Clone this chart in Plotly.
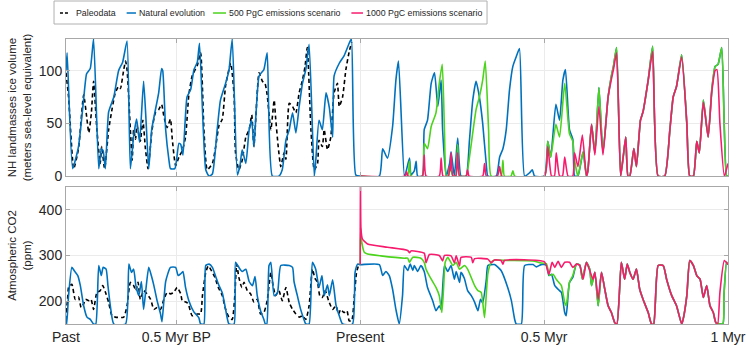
import plotly.graph_objects as go

# ---------------- data (time in kyr, negative = before present) ----------------
t_paleo_ice = [-800, -793, -779, -766, -752, -743, -738, -731, -725, -716, -707, -703, -695, -684, -675,
               -666, -657, -652, -643, -638, -634, -625, -620, -616, -611, -607, -598, -591, -584, -577,
               -566, -557, -548, -540, -534, -525, -516, -511, -502, -493, -484, -475, -466, -457, -443,
               -434, -425, -416, -402, -393, -384, -375, -366, -352, -343, -339, -330, -321, -311, -302,
               -295, -289, -275, -266, -259, -253, -243, -234, -230, -223, -216, -207, -202, -193, -184,
               -175, -166, -157, -150, -144, -134, -125, -116, -112, -103, -98, -89, -80, -71, -62,
               -57, -48, -39, -30, -23]
paleo_ice = [98, 75, 7, 26, 77, 54, 41, 60, 90, 44, 12, 28, 7, 44, 63,
             79, 85, 83, 101, 109, 101, 44, 15, 44, 35, 48, 33, 53, 26, 7,
             44, 60, 63, 68, 57, 46, 54, 35, 10, 18, 24, 37, 77, 95, 105,
             117, 44, 6, 12, 28, 48, 54, 86, 107, 77, 22, 6, 15, 37, 44,
             58, 28, 98, 90, 88, 77, 44, 72, 55, 28, 9, 22, 16, 69, 66,
             60, 79, 91, 104, 122, 44, 6, 12, 34, 28, 44, 25, 37, 79, 88,
             66, 75, 101, 118, 127]

t_nat_ice = [-800, -797, -782, -766, -752, -744, -734, -725, -711, -704, -699, -693, -684, -670, -657,
             -646, -634, -625, -616, -608, -600, -589, -582, -575, -567, -548, -540, -537, -529, -520,
             -516, -504, -493, -488, -482, -471, -461, -452, -443, -437, -420, -411, -402, -389, -380,
             -366, -357, -348, -334, -327, -321, -311, -302, -295, -289, -275, -262, -253, -239, -221,
             -212, -202, -193, -184, -175, -166, -157, -148, -139, -125, -121, -112, -103, -93, -84,
             -75, -71, -57, -44, -30, -24, -12, 0,
             52, 61, 74, 88, 97, 104, 120, 123, 134, 138, 147, 152, 156, 169, 174,
             183, 193, 202, 211, 220, 224, 234, 243, 247, 256, 265, 274, 288, 297, 306,
             315, 324, 333, 343, 347, 370, 379, 388, 397, 406, 415, 424, 433, 447, 460,
             468, 474, 501, 510, 518, 532, 542, 551, 558, 569, 578, 583, 592, 606, 615,
             619, 629, 638, 649, 660, 674, 683, 689, 697, 708, 715, 722, 728, 733, 744,
             751, 762, 769, 783, 795, 810, 828, 842, 851, 860, 874, 888, 896, 906, 915,
             922, 933, 946, 956, 965, 973, 983, 996, 1000]
nat_ice = [100, 117, 7, 28, 73, 97, 102, 130, 7, 26, 24, 7, 61, 75, 100,
           108, 128, 7, 38, 54, 32, 90, 50, 7, 44, 79, 102, 100, 44, 15,
           7, 7, 31, 30, 20, 75, 82, 101, 108, 126, 6, 0, 2, 44, 72,
           88, 100, 130, 1, 10, 25, 12, 44, 53, 28, 95, 101, 117, 0, 0,
           6, 34, 44, 60, 41, 66, 88, 101, 125, 0, 14, 53, 44, 79, 65,
           37, 95, 107, 114, 126, 130, 1, 0,
           0, 26, 17, 47, 91, 109, 0, 2, 17, 1, 5, 14, 0, 0, 44,
           53, 88, 98, 66, 91, 44, 0, 12, 23, 0, 36, 0, 0, 34, 72,
           90, 75, 50, 10, 0, 0, 18, 26, 44, 82, 104, 113, 121, 0, 3,
           6, 0, 0, 33, 18, 68, 53, 91, 101, 44, 35, 0, 0, 23, 0,
           5, 49, 22, 84, 22, 75, 95, 105, 122, 0, 18, 37, 0, 0, 26,
           9, 53, 61, 91, 123, 0, 0, 44, 75, 85, 115, 50, 0, 0, 33,
           22, 72, 37, 82, 104, 106, 122, 0, 0]

t_500_ice = [0, 128, 134, 138, 169, 174, 183, 193, 206, 215, 223, 229, 234, 240, 243,
             247, 252, 260, 265, 270, 288, 297, 315, 324, 333, 340, 349, 356, 383, 388,
             392, 410, 415, 420, 501, 510, 518, 532, 542, 556, 569, 578, 583, 592, 606,
             615, 619, 629, 638, 649, 660, 674, 683, 689, 697, 708, 715, 722, 728, 733,
             744, 751, 762, 769, 783, 795, 810, 828, 842, 851, 860, 874, 888, 896, 906,
             915, 922, 933, 946, 956, 965, 973, 983, 996, 1000]
ice_500 = [0, 0, 14, 0, 0, 31, 26, 47, 60, 88, 106, 44, 0, 0, 9,
           5, 0, 0, 30, 0, 0, 18, 63, 75, 91, 109, 44, 0, 0, 15,
           0, 0, 5, 0, 0, 33, 18, 49, 37, 88, 40, 33, 15, 0, 23,
           0, 5, 49, 22, 84, 22, 75, 95, 105, 122, 0, 18, 37, 0, 0,
           26, 9, 53, 61, 91, 123, 0, 0, 44, 75, 85, 115, 50, 0, 0,
           33, 22, 72, 37, 82, 104, 106, 122, 0, 0]

t_1000_ice = [0, 122, 126, 130, 169, 174, 179, 215, 220, 225, 240, 243, 245, 247, 252,
              260, 265, 270, 288, 292, 296, 333, 338, 343, 373, 379, 385, 501, 510, 520,
              528, 533, 542, 550, 556, 565, 578, 583, 592, 604, 615, 619, 629, 638, 649,
              660, 674, 683, 689, 697, 708, 715, 722, 728, 733, 744, 751, 762, 769, 783,
              795, 810, 828, 842, 851, 860, 874, 888, 896, 906, 915, 922, 933, 946, 956,
              965, 970, 978, 990, 1000]
ice_1000 = [0, 0, 4, 0, 0, 20, 0, 0, 17, 0, 0, 9, 5, 22, 0,
            0, 22, 0, 0, 6, 0, 0, 12, 0, 0, 9, 0, 0, 28, 0,
            0, 22, 0, 0, 18, 0, 0, 22, 9, 39, 0, 5, 49, 20, 66,
            20, 75, 92, 102, 117, 0, 18, 37, 0, 0, 26, 9, 53, 61, 91,
            118, 0, 0, 44, 75, 85, 113, 50, 0, 0, 33, 22, 70, 37, 80,
            100, 101, 50, 0, 12]

t_paleo_co2 = [-800, -796, -793, -784, -775, -766, -759, -752, -747, -738, -732, -725, -716, -707, -700,
               -693, -684, -675, -666, -643, -634, -625, -616, -610, -604, -598, -589, -580, -570, -561,
               -552, -543, -534, -525, -516, -507, -498, -488, -484, -471, -466, -457, -443, -434, -429,
               -420, -413, -404, -395, -386, -375, -366, -357, -348, -341, -336, -330, -322, -316, -307,
               -298, -289, -280, -271, -262, -253, -243, -237, -230, -221, -212, -202, -193, -184, -175,
               -166, -157, -148, -139, -130, -123, -116, -110, -103, -95, -86, -75, -66, -59, -53,
               -44, -36, -30, -23, -16, -10, -5]
paleo_co2 = [175, 200, 230, 237, 204, 209, 186, 194, 204, 201, 204, 182, 219, 223, 234,
             220, 197, 168, 165, 165, 190, 241, 234, 223, 241, 204, 223, 216, 204, 182,
             186, 182, 204, 219, 216, 219, 230, 216, 201, 197, 190, 168, 172, 172, 212,
             263, 277, 266, 252, 230, 212, 182, 165, 160, 212, 281, 252, 230, 241, 223,
             216, 198, 204, 172, 175, 201, 263, 234, 212, 223, 201, 230, 197, 182, 172,
             165, 168, 160, 190, 270, 250, 241, 212, 208, 223, 201, 182, 190, 172, 182,
             175, 179, 157, 157, 212, 263, 277]

t_nat_co2 = [-800, -798, -793, -784, -777, -768, -761, -752, -743, -734, -725, -719, -711, -704, -699,
             -691, -686, -679, -670, -638, -629, -622, -616, -610, -602, -595, -589, -582, -575, -568,
             -561, -552, -543, -539, -529, -516, -502, -495, -488, -482, -475, -466, -452, -439, -434,
             -425, -420, -411, -402, -393, -384, -375, -366, -357, -343, -339, -330, -321, -311, -302,
             -293, -286, -280, -271, -262, -258, -254, -248, -243, -234, -225, -216, -193, -184, -180,
             -171, -162, -153, -148, -139, -130, -121, -112, -104, -98, -89, -84, -75, -66, -57,
             -48, -21, -14, -7, 0,
             52, 61, 70, 79, 88, 97, 106, 115, 120, 129, 136, 143, 147, 156, 165,
             174, 183, 197, 206, 215, 220, 229, 238, 247, 256, 261, 270, 274, 283, 292,
             302, 311, 320, 327, 333, 343, 347, 365, 383, 401, 411, 420, 424, 438, 447,
             470, 479, 492, 506, 513, 520, 529, 538, 547, 556, 560, 569, 578, 588, 597,
             604, 615, 624, 629, 638, 647, 656, 665, 674, 683, 692, 698, 710, 719, 726,
             733, 742, 751, 760, 769, 783, 792, 798, 810, 824, 833, 847, 860, 874, 878,
             888, 896, 906, 915, 924, 933, 942, 951, 960, 967, 986, 989, 996, 1000]
nat_co2 = [168, 150, 212, 274, 266, 256, 234, 190, 165, 160, 150, 150, 278, 256, 274,
           270, 234, 187, 150, 150, 281, 263, 270, 234, 212, 243, 182, 232, 274, 256,
           234, 200, 172, 155, 243, 274, 274, 256, 260, 265, 230, 201, 176, 164, 150,
           150, 278, 281, 274, 254, 234, 218, 182, 150, 150, 285, 274, 265, 270, 243,
           234, 254, 212, 179, 160, 150, 150, 278, 285, 212, 218, 278, 278, 274, 243,
           212, 182, 160, 150, 150, 285, 270, 230, 256, 212, 236, 212, 247, 192, 168,
           150, 150, 263, 281, 280,
           280, 256, 265, 256, 226, 182, 150, 212, 278, 267, 281, 267, 278, 265, 278,
           265, 230, 201, 179, 190, 182, 278, 265, 278, 248, 265, 241, 263, 250, 223,
           212, 198, 179, 204, 196, 248, 278, 280, 267, 230, 201, 160, 150, 150, 278,
           280, 275, 280, 279, 256, 259, 234, 226, 219, 175, 168, 241, 252, 281, 279,
           248, 285, 270, 234, 263, 190, 263, 226, 190, 175, 153, 150, 285, 248, 281,
           263, 248, 270, 226, 204, 175, 150, 150, 278, 278, 248, 212, 190, 150, 160,
           212, 289, 278, 256, 248, 208, 234, 190, 175, 153, 150, 212, 285, 280]

t_500_co2 = [0, 1, 4, 11, 20, 56, 120, 129, 134, 143, 165, 174, 179, 193, 206,
             215, 222, 227, 231, 238, 252, 261, 270, 283, 292, 311, 320, 329, 338, 347,
             356, 365, 400, 470, 488, 506, 515, 524, 533, 540, 547, 556, 560, 569, 578,
             588, 597, 604, 615, 624, 629, 638, 647, 656, 665, 674, 683, 692, 698, 710,
             719, 726, 733, 742, 751, 760, 769, 783, 792, 798, 810, 824, 833, 847, 860,
             874, 878, 888, 896, 906, 915, 924, 933, 942, 951, 960, 967, 986, 989, 996,
             1000]
co2_500 = [280, 360, 330, 307, 303, 299, 294, 294, 285, 296, 294, 285, 270, 248, 230,
           212, 175, 234, 285, 296, 278, 285, 270, 278, 270, 234, 223, 219, 164, 260,
           285, 290, 289, 288, 284, 282, 256, 259, 248, 241, 234, 197, 190, 241, 256,
           281, 279, 248, 285, 270, 234, 263, 190, 263, 226, 190, 175, 153, 150, 285,
           248, 281, 263, 248, 270, 226, 204, 175, 150, 150, 278, 278, 248, 212, 190,
           150, 160, 212, 289, 278, 256, 248, 208, 234, 190, 175, 153, 150, 212, 285,
           280]

t_1000_co2 = [0, 0.5, 2, 6, 20, 74, 129, 134, 138, 174, 179, 188, 215, 224, 229,
              247, 256, 261, 270, 274, 302, 306, 311, 347, 356, 365, 383, 388, 392, 501,
              513, 520, 522, 529, 538, 547, 556, 569, 578, 588, 597, 606, 615, 624, 633,
              638, 647, 656, 665, 674, 683, 692, 698, 710, 719, 726, 733, 742, 751, 760,
              769, 783, 792, 798, 810, 824, 833, 847, 860, 874, 878, 888, 896, 906, 915,
              924, 933, 942, 951, 960, 967, 972, 978, 990, 1000]
co2_1000 = [280, 520, 358, 336, 325, 318, 311, 306, 310, 305, 284, 302, 300, 288, 300,
            299, 284, 299, 277, 296, 296, 284, 293, 292, 284, 290, 289, 281, 289, 286,
            259, 281, 285, 274, 287, 274, 285, 285, 274, 281, 278, 248, 285, 267, 248,
            263, 204, 263, 226, 190, 175, 153, 150, 285, 248, 281, 263, 248, 270, 226,
            204, 175, 150, 150, 278, 278, 248, 212, 190, 150, 160, 212, 289, 278, 256,
            248, 208, 234, 190, 175, 153, 150, 219, 289, 280]

tick_vals = [-800, -500, 0, 500, 1000]
tick_text = ["Past", "0.5 Myr BP", "Present", "0.5 Myr", "1 Myr"]
series_names = ["Paleodata", "Natural evolution", "500 PgC emissions scenario", "1000 PgC emissions scenario"]

# ---------------- styling ----------------
C_PALEO = "#000000"
C_NAT = "#0072BD"
C_500 = "#4CD41C"
C_1000 = "#F71B6E"
FONT = "Liberation Sans, Arial, Helvetica, sans-serif"
AX = "#a8a8a8"
GRID = "#ebebeb"
TXT = "#262626"

fig = go.Figure()

def add(t, v, color, name, yaxis, dash=None):
    fig.add_trace(go.Scatter(
        x=t, y=v, mode="lines", name=name, showlegend=False,
        line=dict(color=color, width=1.6, dash=dash, shape="spline", smoothing=0.5),
        xaxis="x" if yaxis == "y" else "x2", yaxis=yaxis, hoverinfo="skip"))

add(t_paleo_ice, paleo_ice, C_PALEO, series_names[0], "y", dash="4px,3px")
add(t_nat_ice, nat_ice, C_NAT, series_names[1], "y")
add(t_500_ice, ice_500, C_500, series_names[2], "y")
add(t_1000_ice, ice_1000, C_1000, series_names[3], "y")

add(t_paleo_co2, paleo_co2, C_PALEO, series_names[0], "y2", dash="4px,3px")
add(t_nat_co2, nat_co2, C_NAT, series_names[1], "y2")
add(t_500_co2, co2_500, C_500, series_names[2], "y2")
add(t_1000_co2, co2_1000, C_1000, series_names[3], "y2")

xcommon = dict(range=[-800, 1000], tickvals=tick_vals, ticktext=tick_text, showgrid=True,
               gridcolor=GRID, gridwidth=1, showline=True, linecolor=AX, linewidth=1, mirror="ticks",
               ticks="inside", ticklen=4, tickcolor=AX, zeroline=False, automargin=False,
               tickfont=dict(family=FONT, size=14, color=TXT))
ycommon = dict(showgrid=True, gridcolor=GRID, gridwidth=1, showline=True, linecolor=AX, linewidth=1,
               mirror="ticks", ticks="inside", ticklen=4, tickcolor=AX, zeroline=False, automargin=False,
               tickfont=dict(family=FONT, size=14, color=TXT))

fig.update_layout(
    width=749, height=348,
    margin=dict(l=66, r=21, t=39, b=24),
    paper_bgcolor="white", plot_bgcolor="white",
    showlegend=False,
    xaxis=dict(domain=[0, 1], anchor="y", showticklabels=False, **xcommon),
    xaxis2=dict(domain=[0, 1], anchor="y2", matches="x", showticklabels=True, **xcommon),
    yaxis=dict(domain=[0.519, 1.0], range=[0, 130], tickvals=[0, 50, 100],
               title=dict(text="NH landmasses ice volume<br>(meters sea-level equivalent)",
                          font=dict(family=FONT, size=11.5, color=TXT), standoff=4),
               **ycommon),
    yaxis2=dict(domain=[0, 0.481], range=[150, 450], tickvals=[200, 300, 400],
                title=dict(text="Atmospheric CO2<br>(ppm)",
                           font=dict(family=FONT, size=11.5, color=TXT), standoff=4),
                **ycommon),
)

# ---------------- legend (MATLAB-style box with short line samples) ----------------
ly = 1.0912
fig.add_shape(type="rect", xref="paper", yref="paper", x0=-0.0181, x1=0.636, y0=1.0526, y1=1.1333,
              line=dict(color="#b0b0b0", width=1), fillcolor="white", layer="above")
samples = [(-0.0091, 0.0030, C_PALEO, "dash", 0.0121),
           (0.0916, 0.1057, C_NAT, None, 0.1073),
           (0.2221, 0.2417, C_500, None, 0.2432),
           (0.4311, 0.4486, C_1000, None, 0.4502)]
for (x0, x1, col, dsh, tx), name in zip(samples, series_names):
    fig.add_shape(type="line", xref="paper", yref="paper", x0=x0, x1=x1, y0=ly, y1=ly,
                  line=dict(color=col, width=1.5, dash="3px,2px" if dsh else None), layer="above")
    fig.add_annotation(xref="paper", yref="paper", x=tx, y=ly, text=name, showarrow=False,
                       xanchor="left", yanchor="middle",
                       font=dict(family=FONT, size=8.8, color=TXT))

fig.write_html("out.html", config={"displayModeBar": False},
               post_script="document.body.style.margin='0';document.body.style.overflow='hidden';")
